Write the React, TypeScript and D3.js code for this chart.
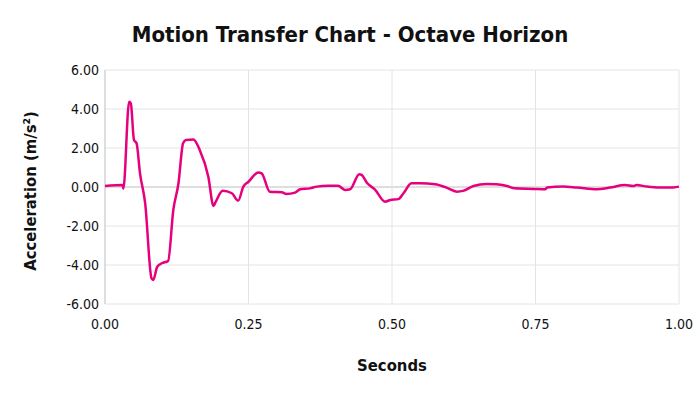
import { useMemo } from "react";
import * as d3 from "d3";

// time (s) and acceleration (m/s²)
const seconds = [
  0, 0.031, 0.032, 0.042, 0.045, 0.0505, 0.055, 0.061, 0.07, 0.081, 0.084,
  0.091, 0.099, 0.11, 0.119, 0.128, 0.136, 0.141, 0.154, 0.165, 0.18, 0.189,
  0.193, 0.205, 0.221, 0.232, 0.241, 0.25, 0.267, 0.273, 0.287, 0.308, 0.316,
  0.331, 0.34, 0.357, 0.369, 0.389, 0.406, 0.418, 0.427, 0.443, 0.447, 0.457,
  0.47, 0.488, 0.497, 0.511, 0.52, 0.534, 0.549, 0.575, 0.595, 0.613, 0.624,
  0.642, 0.665, 0.682, 0.7, 0.714, 0.746, 0.767, 0.77, 0.798, 0.822, 0.857,
  0.88, 0.906, 0.92, 0.926, 0.944, 0.967, 0.99, 1.0,
];
const acceleration = [
  0.05, 0.1, -0.09, 4.37, 4.29, 2.41, 2.24, 0.7, -0.84, -4.68, -4.77, -4.09,
  -3.91, -3.79, -1.18, 0.19, 2.24, 2.41, 2.44, 1.9, 0.53, -0.97, -0.75, -0.19,
  -0.32, -0.7, 0.02, 0.27, 0.75, 0.7, -0.24, -0.27, -0.36, -0.29, -0.12, -0.07,
  0.02, 0.07, 0.07, -0.15, -0.12, 0.65, 0.62, 0.19, -0.12, -0.75, -0.67, -0.62,
  -0.32, 0.19, 0.19, 0.14, -0.03, -0.24, -0.2, 0.05, 0.15, 0.14, 0.05, -0.07,
  -0.1, -0.12, -0.03, 0.02, -0.03, -0.12, -0.03, 0.1, 0.05, 0.1, 0.02, -0.03,
  -0.02, 0.02,
];
const xTicks = [0, 0.25, 0.5, 0.75, 1];
const yTicks = [-6, -4, -2, 0, 2, 4, 6];

const W = 700;
const H = 394;
const margin = { top: 70, right: 21, bottom: 90, left: 105 };
const font = "'DejaVu Sans Condensed', 'DejaVu Sans', sans-serif";

export default function App() {
  const x = d3.scaleLinear().domain([0, 1]).range([margin.left, W - margin.right]);
  const y = d3.scaleLinear().domain([-6, 6]).range([H - margin.bottom, margin.top]);

  const path = useMemo(() => {
    const line = d3
      .line<number>()
      .x((_, i) => x(seconds[i]))
      .y((d) => y(d))
      .curve(d3.curveMonotoneX);
    return line(acceleration) ?? "";
  }, []);

  return (
    <svg
      width={W}
      height={H}
      style={{ position: "absolute", left: 0, top: 0, background: "#fff", fontFamily: font, fontStretch: "condensed" }}
    >
      <text x={350} y={42} textAnchor="middle" fontSize={22} fontWeight="bold" fill="#111">
        Motion Transfer Chart - Octave Horizon
      </text>

      {yTicks.map((t) => (
        <line key={"gy" + t} x1={x(0)} x2={x(1)} y1={y(t)} y2={y(t)} stroke={t === 0 ? "#bdbdbd" : "#e4e4e4"} strokeWidth={1} />
      ))}
      {xTicks.map((t) => (
        <line key={"gx" + t} x1={x(t)} x2={x(t)} y1={y(6)} y2={y(-6)} stroke={t === 0 ? "#bdbdbd" : "#e4e4e4"} strokeWidth={1} />
      ))}

      {yTicks.map((t) => (
        <text key={"ty" + t} x={x(0) - 6} y={y(t)} dy="0.35em" textAnchor="end" fontSize={14} fill="#111">
          {t.toFixed(2)}
        </text>
      ))}
      {xTicks.map((t) => (
        <text key={"tx" + t} x={x(t)} y={y(-6) + 25} textAnchor="middle" fontSize={14} fill="#111">
          {t.toFixed(2)}
        </text>
      ))}

      <path d={path} fill="none" stroke="#E6007E" strokeWidth={2.5} strokeLinejoin="round" />

      <text x={(x(0) + x(1)) / 2} y={371} textAnchor="middle" fontSize={16.5} fontWeight="bold" fill="#111">
        Seconds
      </text>
      <text
        transform={`translate(36,${y(0) + 4}) rotate(-90)`}
        textAnchor="middle"
        fontSize={16.5}
        fontWeight="bold"
        fill="#111"
      >
        Acceleration (m/s²)
      </text>
    </svg>
  );
}
